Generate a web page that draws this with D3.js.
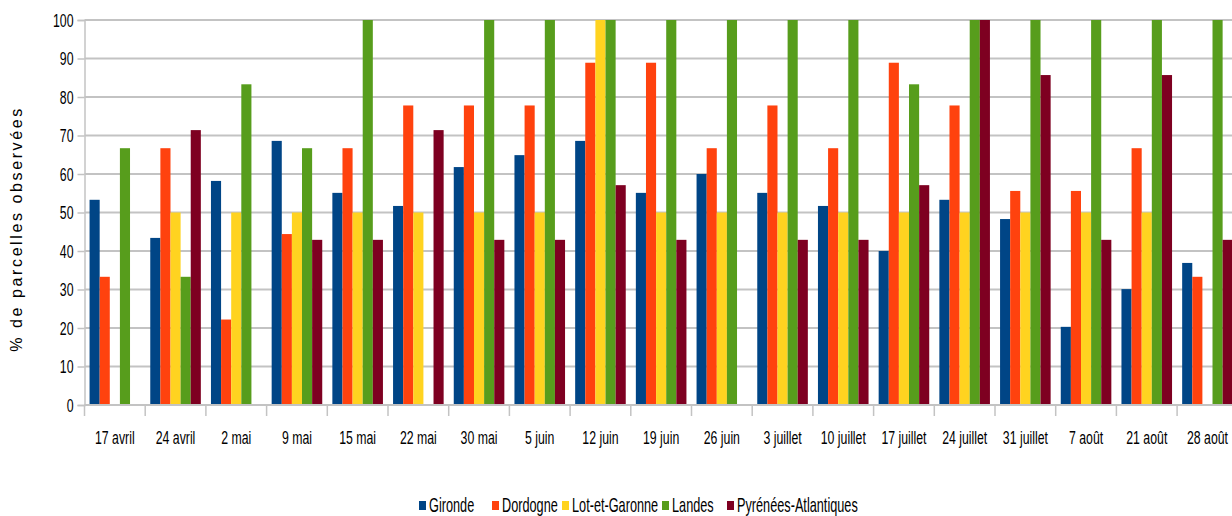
<!DOCTYPE html>
<html>
<head>
<meta charset="utf-8">
<script src="https://cdn.jsdelivr.net/npm/d3@7"></script>
<style>
  html, body { margin: 0; padding: 0; background: #fff; overflow: hidden; }
  svg { display: block; }
  /* Condensed label look: horizontally narrowed, slightly tall glyphs */
  .narrow { transform-box: fill-box; transform: scale(0.82, 1.26); }
  .narrow.mid { transform-origin: center center; }
  .narrow.end { transform-origin: right center; }
  .narrow.start { transform-origin: left center; }
</style>
</head>
<body>
<svg id="chart" width="1232" height="516"></svg>
<script>
// Weekly observation dates
const dates = ["17 avril", "24 avril", "2 mai", "9 mai", "15 mai", "22 mai", "30 mai",
  "5 juin", "12 juin", "19 juin", "26 juin", "3 juillet", "10 juillet", "17 juillet",
  "24 juillet", "31 juillet", "7 août", "21 août", "28 août"];

// Départements
const departements = ["Gironde", "Dordogne", "Lot-et-Garonne", "Landes", "Pyrénées-Atlantiques"];

// % of observed plots per département (null = no observation)
const gironde = [53.3, 43.4, 58.2, 68.6, 55.1, 51.7, 61.8, 64.9, 68.6, 55.1, 60.0, 55.1, 51.7, 40.0, 53.3, 48.3, 20.3, 30.1, 36.9];
const dordogne = [33.3, 66.7, 22.2, 44.4, 66.7, 77.8, 77.8, 77.8, 88.9, 88.9, 66.7, 77.8, 66.7, 88.9, 77.8, 55.6, 55.6, 66.7, 33.3];
const lotEtGaronne = [null, 50, 50, 50, 50, 50, 50, 50, 100, 50, 50, 50, 50, 50, 50, 50, 50, 50, null];
const landes = [66.7, 33.3, 83.3, 66.7, 100, null, 100, 100, 100, 100, 100, 100, 100, 83.3, 100, 100, 100, 100, 100];
const pyreneesAtlantiques = [null, 71.4, null, 42.9, 42.9, 71.4, 42.9, 42.9, 57.1, 42.9, null, 42.9, 42.9, 57.1, 100, 85.7, 42.9, 85.7, 42.9];

const yTicks = [0, 10, 20, 30, 40, 50, 60, 70, 80, 90, 100];
const colors = ["#004586", "#ff420e", "#ffd320", "#579d1c", "#7e0021"];

const seriesValues = [gironde, dordogne, lotEtGaronne, landes, pyreneesAtlantiques];

const svg = d3.select("#chart");
const plotLeft = 84.5, plotTop = 20, plotBottom = 405;
const bandStep = 60.7;
const plotRight = plotLeft + bandStep * dates.length;
const labelFont = "'Liberation Sans', Arial, sans-serif";

const x0 = d3.scaleBand().domain(dates).range([plotLeft, plotRight]).paddingInner(0).paddingOuter(0);
const x1 = d3.scaleBand().domain(departements).range([0, x0.bandwidth()])
  .paddingInner(0).paddingOuter(0.5);
const y = d3.scaleLinear().domain([0, 100]).range([plotBottom, plotTop]);
const color = d3.scaleOrdinal().domain(departements).range(colors);

// Horizontal gridlines
svg.append("g")
  .selectAll("line")
  .data(yTicks)
  .join("line")
  .attr("x1", plotLeft).attr("x2", plotRight)
  .attr("y1", d => y(d)).attr("y2", d => y(d))
  .attr("stroke", "#c3c3c3")
  .attr("stroke-width", 2);

// Y axis
const yAxis = svg.append("g")
  .attr("transform", `translate(${plotLeft},0)`)
  .call(d3.axisLeft(y).tickValues(yTicks).tickSize(7).tickPadding(4).tickFormat(d3.format("d")));
yAxis.select(".domain").attr("stroke", "#c3c3c3").attr("stroke-width", 1.5);
yAxis.selectAll(".tick line").attr("stroke", "#c3c3c3").attr("stroke-width", 1.5);
yAxis.selectAll(".tick text")
  .attr("class", "narrow end")
  .attr("fill", "#000")
  .style("font-family", labelFont)
  .style("font-size", "15px");

// Bars
const groups = svg.append("g")
  .selectAll("g")
  .data(dates.map((d, i) => ({ date: d, values: departements.map((s, k) => ({ key: s, value: seriesValues[k][i] })) })))
  .join("g")
  .attr("transform", d => `translate(${x0(d.date)},0)`);

groups.selectAll("rect")
  .data(d => d.values.filter(v => v.value !== null))
  .join("rect")
  .attr("x", d => x1(d.key))
  .attr("width", x1.bandwidth())
  .attr("y", d => y(d.value))
  .attr("height", d => y(0) - y(d.value))
  .attr("fill", d => color(d.key));

// X axis with ticks on band boundaries
const xAxisG = svg.append("g").attr("transform", `translate(0,${plotBottom})`);
xAxisG.append("line")
  .attr("x1", plotLeft).attr("x2", plotRight)
  .attr("stroke", "#c3c3c3").attr("stroke-width", 2);
xAxisG.selectAll("line.tick")
  .data(dates.concat(["end"]))
  .join("line")
  .attr("class", "tick")
  .attr("x1", (d, i) => plotLeft + i * x0.step())
  .attr("x2", (d, i) => plotLeft + i * x0.step())
  .attr("y1", 0).attr("y2", 11)
  .attr("stroke", "#c3c3c3").attr("stroke-width", 1.5);
xAxisG.selectAll("text")
  .data(dates)
  .join("text")
  .attr("class", "narrow mid")
  .attr("x", d => x0(d) + x0.bandwidth() / 2)
  .attr("y", 38)
  .attr("text-anchor", "middle")
  .style("font-family", labelFont)
  .style("font-size", "15px")
  .text(d => d);

// Y axis title
svg.append("text")
  .attr("transform", `translate(22,229) rotate(-90)`)
  .attr("text-anchor", "middle")
  .style("font-family", labelFont)
  .style("font-size", "16px")
  .style("letter-spacing", "2.6px")
  .text("% de parcelles observées");

// Legend
const legendX = [419, 492, 562, 662, 727];
const legend = svg.append("g")
  .selectAll("g")
  .data(departements)
  .join("g")
  .attr("transform", (d, i) => `translate(${legendX[i]},0)`);
legend.append("rect")
  .attr("x", 0).attr("y", 501)
  .attr("width", 7).attr("height", 9)
  .attr("fill", d => color(d));
legend.append("text")
  .attr("class", "narrow start")
  .attr("x", 10).attr("y", 511)
  .style("font-family", labelFont)
  .style("font-size", "15.5px")
  .text(d => d);
</script>
</body>
</html>
